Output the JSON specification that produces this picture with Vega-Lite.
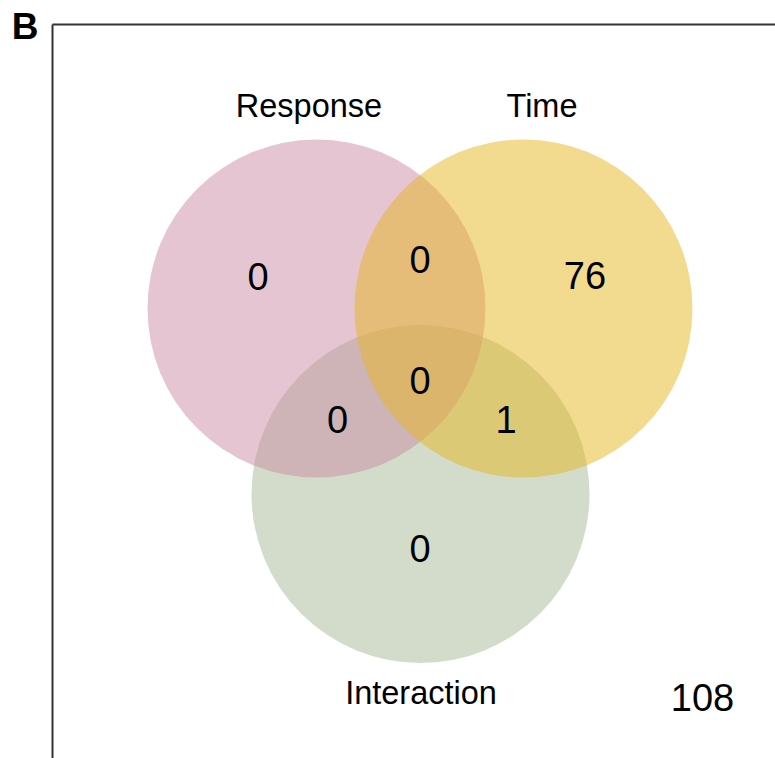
{
  "$schema": "https://vega.github.io/schema/vega-lite/v6.json",
  "width": 723,
  "height": 734,
  "autosize": "none",
  "padding": {"left": 52, "top": 24, "right": 0, "bottom": 0},
  "background": "white",
  "config": {
    "view": {"stroke": null},
    "text": {"font": "Liberation Sans", "color": "black"}
  },
  "datasets": {
    "sets": [
      {"set": "Interaction", "cx": 420.5, "cy": 494, "lx": 421, "ly": 704},
      {"set": "Response", "cx": 316.5, "cy": 308.5, "lx": 309, "ly": 116.5},
      {"set": "Time", "cx": 523.5, "cy": 308.5, "lx": 542, "ly": 116.5}
    ],
    "counts": [
      {"region": "Response only", "n": "0", "x": 258, "y": 290},
      {"region": "Response & Time", "n": "0", "x": 420, "y": 273},
      {"region": "Time only", "n": "76", "x": 585, "y": 289},
      {"region": "All three", "n": "0", "x": 420, "y": 394},
      {"region": "Response & Interaction", "n": "0", "x": 337.5, "y": 433},
      {"region": "Time & Interaction", "n": "1", "x": 506, "y": 433},
      {"region": "Interaction only", "n": "0", "x": 420, "y": 561.5},
      {"region": "None", "n": "108", "x": 702.5, "y": 711}
    ],
    "panel": [
      {"tag": "B", "x": 25, "y": 39}
    ]
  },
  "layer": [
    {
      "data": {"name": "sets"},
      "mark": {"type": "point", "shape": "circle", "filled": true, "opacity": 0.5, "strokeWidth": 0, "size": 114244},
      "encoding": {
        "x": {
          "field": "cx", "type": "quantitative",
          "scale": {"domain": [52, 775], "nice": false, "zero": false},
          "axis": {"orient": "top", "title": null, "labels": false, "ticks": false, "grid": false, "domainColor": "#333333", "domainWidth": 2}
        },
        "y": {
          "field": "cy", "type": "quantitative",
          "scale": {"domain": [24, 758], "nice": false, "zero": false, "reverse": true},
          "axis": {"orient": "left", "title": null, "labels": false, "ticks": false, "grid": false, "domainColor": "#333333", "domainWidth": 2}
        },
        "color": {
          "field": "set", "type": "nominal",
          "scale": {"domain": ["Response", "Time", "Interaction"], "range": ["#cb8ba3", "#e5b51f", "#a7b997"]},
          "legend": null
        }
      }
    },
    {
      "data": {"name": "sets"},
      "mark": {"type": "text", "fontSize": 32.5, "align": "center", "baseline": "alphabetic"},
      "encoding": {
        "x": {"field": "lx", "type": "quantitative"},
        "y": {"field": "ly", "type": "quantitative"},
        "text": {"field": "set", "type": "nominal"}
      }
    },
    {
      "data": {"name": "counts"},
      "mark": {"type": "text", "fontSize": 38, "align": "center", "baseline": "alphabetic"},
      "encoding": {
        "x": {"field": "x", "type": "quantitative"},
        "y": {"field": "y", "type": "quantitative"},
        "text": {"field": "n", "type": "nominal"}
      }
    },
    {
      "data": {"name": "panel"},
      "mark": {"type": "text", "fontSize": 37, "fontWeight": "bold", "align": "center", "baseline": "alphabetic", "clip": false},
      "encoding": {
        "x": {"field": "x", "type": "quantitative"},
        "y": {"field": "y", "type": "quantitative"},
        "text": {"field": "tag", "type": "nominal"}
      }
    }
  ]
}
